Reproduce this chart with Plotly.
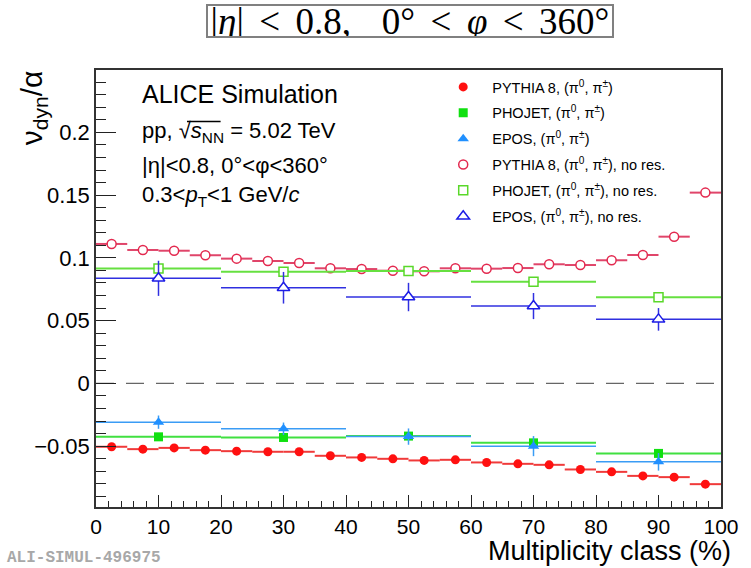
import plotly.graph_objects as go

# ---------------- data ----------------
x_fine = [2.5, 7.5, 12.5, 17.5, 22.5, 27.5, 32.5, 37.5, 42.5, 47.5,
          52.5, 57.5, 62.5, 67.5, 72.5, 77.5, 82.5, 87.5, 92.5, 97.5]
x_coarse = [10, 30, 50, 70, 90]

pythia = [-0.0505, -0.0524, -0.0514, -0.0532, -0.0540, -0.0545, -0.0545, -0.0577, -0.0590, -0.0601,
          -0.0614, -0.0609, -0.0630, -0.0641, -0.0649, -0.0686, -0.0705, -0.0737, -0.0747, -0.0803]
pythia_nores = [0.1111, 0.1063, 0.1057, 0.1021, 0.0994, 0.0975, 0.0959, 0.0917, 0.0911, 0.0898,
                0.0893, 0.0917, 0.0914, 0.0919, 0.0949, 0.0943, 0.0981, 0.1023, 0.1169, 0.1520]

phojet = [-0.0426, -0.0431, -0.0420, -0.0474, -0.0558]
phojet_err = [0.0015, 0.0015, 0.0015, 0.0015, 0.0015]
phojet_nores = [0.0915, 0.0890, 0.0896, 0.0810, 0.0686]
phojet_nores_err = [0.002, 0.002, 0.002, 0.002, 0.002]

epos = [-0.0309, -0.0362, -0.0424, -0.0500, -0.0625]
epos_err = [0.0053, 0.0050, 0.0065, 0.0080, 0.0070]
epos_nores = [0.0837, 0.0762, 0.0688, 0.0616, 0.0510]
epos_nores_err = [0.0140, 0.0126, 0.0113, 0.0104, 0.0090]

fine_halfwidth = [2.5] * 20
coarse_halfwidth = [10] * 5

y_tickvals = [-0.05, 0, 0.05, 0.1, 0.15, 0.2]
y_ticktext = ["\u22120.05", "0", "0.05", "0.1", "0.15", "0.2"]

# ---------------- geometry helpers ----------------
W, H = 751, 568
ML, MR, MT, MB = 96, 23, 70, 61
PW, PH = W - ML - MR, H - MT - MB


def px(xp):
    return (xp - ML) / PW


def py(yp):
    return (H - MB - yp) / PH


FONT = "Liberation Sans, Arial, Helvetica, sans-serif"

fig = go.Figure()


def add_series(name, x, y, xerr, yerr, symbol, mcolor, lcolor, open_marker, lw, size=9):
    marker = dict(symbol=symbol, size=size, color=mcolor)
    if open_marker:
        marker.update(color="white", line=dict(color=mcolor, width=1.5))
    else:
        marker.update(line=dict(width=0))
    tr = dict(
        x=x, y=y, mode="markers", name=name, marker=marker, legendgroup=name,
        error_x=dict(type="data", array=xerr, symmetric=True, color=lcolor, thickness=lw, width=0),
    )
    if yerr is not None:
        tr["error_y"] = dict(type="data", array=yerr, symmetric=True, color=lcolor, thickness=1.5, width=0)
    fig.add_trace(go.Scatter(**tr))


RED = "#ff1010"
PINK = "#e3294f"
GREEN = "#10e010"
LGREEN = "#5ad82a"
AZURE = "#2090ff"
BLUE = "#1c1ce6"

PI = "(\u03c0<sup>0</sup>, \u03c0<sup>\u00b1</sup>)"
add_series("PYTHIA 8, " + PI, x_fine, pythia, fine_halfwidth, None,
           "circle", RED, "#f03a3a", False, 2)
add_series("PHOJET, " + PI, x_coarse, phojet, coarse_halfwidth, phojet_err,
           "square", GREEN, "#40e040", False, 2)
add_series("EPOS, " + PI, x_coarse, epos, coarse_halfwidth, epos_err,
           "triangle-up", AZURE, "#3a9cf5", False, 1.5, 10)
add_series("PYTHIA 8, " + PI + ", no res.", x_fine, pythia_nores, fine_halfwidth, None,
           "circle", PINK, "#e0456a", True, 2)
add_series("PHOJET, " + PI + ", no res.", x_coarse, phojet_nores, coarse_halfwidth,
           phojet_nores_err, "square", LGREEN, "#66e040", True, 2)
add_series("EPOS, " + PI + ", no res.", x_coarse, epos_nores, coarse_halfwidth,
           epos_nores_err, "triangle-up", BLUE, "#3030e0", True, 1.5, 11)

# zero reference line
fig.add_shape(type="line", xref="x", yref="y", x0=0, x1=100, y0=0, y1=0,
              line=dict(color="#666666", width=1.2, dash="18px,12px"), layer="below")

annotations = [
    dict(x=px(140), y=py(94), text="ALICE Simulation", font=dict(size=25)),
    dict(x=px(140), y=py(132), text="pp, \u221a<i>s</i><sub>NN</sub> = 5.02 TeV", font=dict(size=22)),
    dict(x=px(140), y=py(165), text="|\u03b7|<0.8, 0\u00b0<\u03c6<360\u00b0", font=dict(size=22)),
    dict(x=px(140), y=py(196), text="0.3<<i>p</i><sub>T</sub><1 GeV/<i>c</i>", font=dict(size=22)),
]
for a in annotations:
    a.update(xref="paper", yref="paper", xanchor="left", yanchor="middle", showarrow=False)
    a["font"].update(family=FONT, color="black")
    fig.add_annotation(**a)

# overline of the square root
fig.add_shape(type="line", xref="paper", yref="paper", x0=px(188), x1=px(222), y0=py(121.5), y1=py(121.5),
              line=dict(color="black", width=1.3))

# y-axis title (rotated)
fig.add_annotation(xref="paper", yref="paper", x=px(33), y=py(68), xanchor="center", yanchor="top",
                   text="\u03bd<sub>dyn</sub>/\u03b1", textangle=-90, showarrow=False,
                   font=dict(family=FONT, size=30, color="black"))
# x-axis title
fig.add_annotation(xref="paper", yref="paper", x=px(740), y=py(551), xanchor="right", yanchor="middle",
                   text="Multiplicity class (%)", showarrow=False,
                   font=dict(family=FONT, size=27, color="black"))
# watermark
fig.add_annotation(xref="paper", yref="paper", x=px(4), y=py(558), xanchor="left", yanchor="middle",
                   text="<b>ALI-SIMUL-496975</b>", showarrow=False,
                   font=dict(family="Liberation Mono, Courier New, monospace", size=16, color="#a8a8a8"))
# boxed title
SP = " \u200a\u200a"
fig.add_annotation(xref="paper", yref="paper", x=px(413.7), y=py(21), xanchor="center", yanchor="middle",
                   text="|<i>\u03b7</i>|" + SP + "<" + SP + "0.8," + SP + SP + "0\u00b0" + SP + "<" + SP
                        + "<i>\u03c6</i>" + SP + "<" + SP + "360\u00b0",
                   showarrow=False,
                   width=404, height=30, borderpad=0, bordercolor="#808080", borderwidth=2,
                   bgcolor="white",
                   font=dict(family="Liberation Serif, Times New Roman, serif", size=37, color="black"))

fig.update_layout(
    width=W, height=H,
    margin=dict(l=ML, r=MR, t=MT, b=MB, pad=0),
    paper_bgcolor="white", plot_bgcolor="white",
    showlegend=True,
    legend=dict(x=px(438), y=py(71), xanchor="left", yanchor="top",
                bgcolor="rgba(255,255,255,0)", borderwidth=0,
                font=dict(family=FONT, size=14.5, color="black"),
                itemwidth=48, tracegroupgap=4),
    font=dict(family=FONT, color="black"),
)

fig.update_xaxes(range=[0, 100], tickmode="linear", tick0=0, dtick=10,
                 ticks="inside", ticklen=12, tickwidth=1, tickcolor="#222",
                 showline=True, linecolor="#333", linewidth=1.5, mirror=True,
                 showgrid=False, zeroline=False,
                 tickfont=dict(family=FONT, size=21, color="black"),
                 ticklabelstandoff=0,
                 minor=dict(tickmode="linear", tick0=0, dtick=2, ticks="inside", ticklen=6,
                            tickwidth=1, tickcolor="#222", showgrid=False))
fig.update_yaxes(range=[-0.0985, 0.2497], tickmode="array", tickvals=y_tickvals, ticktext=y_ticktext,
                 ticks="inside", ticklen=20, tickwidth=1, tickcolor="#222",
                 showline=True, linecolor="#333", linewidth=1.5, mirror=True,
                 showgrid=False, zeroline=False,
                 tickfont=dict(family=FONT, size=22, color="black"),
                 ticklabelstandoff=0,
                 minor=dict(tickmode="linear", tick0=0, dtick=0.01, ticks="inside", ticklen=10,
                            tickwidth=1, tickcolor="#222", showgrid=False))

fig.write_html("out.html")
